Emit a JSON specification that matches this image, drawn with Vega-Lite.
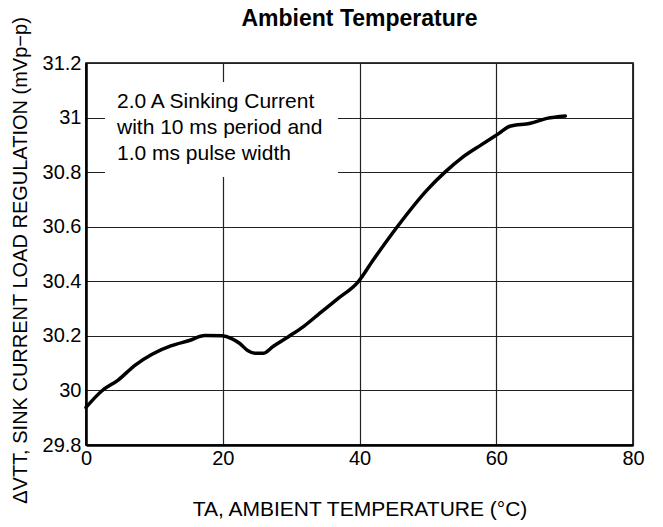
{
  "$schema": "https://vega.github.io/schema/vega-lite/v6.json",
  "width": 547,
  "height": 382,
  "autosize": {"type": "none"},
  "padding": {"left": 86, "top": 63, "right": 30, "bottom": 82},
  "background": "white",
  "title": {
    "text": "Ambient Temperature",
    "font": "Liberation Sans",
    "fontSize": 23,
    "fontWeight": "bold",
    "color": "black",
    "anchor": "middle",
    "offset": -14
  },
  "config": {
    "font": "Liberation Sans",
    "view": {"stroke": "black", "strokeWidth": 1.6},
    "axis": {
      "labelFont": "Liberation Sans",
      "titleFont": "Liberation Sans",
      "labelFontSize": 20,
      "titleFontSize": 20,
      "titleFontWeight": "normal",
      "labelColor": "black",
      "titleColor": "black",
      "domainColor": "black",
      "domainWidth": 2.5,
      "gridColor": "#222222",
      "gridWidth": 1.2,
      "gridOpacity": 1,
      "ticks": false
    }
  },
  "layer": [
    {
      "data": {
        "values": [
          {"t": 0, "v": 29.938},
          {"t": 2.3, "v": 29.998},
          {"t": 4.7, "v": 30.038},
          {"t": 7.2, "v": 30.093},
          {"t": 9.6, "v": 30.132},
          {"t": 12.5, "v": 30.164},
          {"t": 15.0, "v": 30.182},
          {"t": 17.4, "v": 30.201},
          {"t": 19.9, "v": 30.2},
          {"t": 21.3, "v": 30.19},
          {"t": 22.5, "v": 30.172},
          {"t": 23.7, "v": 30.145},
          {"t": 24.7, "v": 30.136},
          {"t": 25.9, "v": 30.136},
          {"t": 27.4, "v": 30.162},
          {"t": 29.6, "v": 30.197},
          {"t": 31.8, "v": 30.234},
          {"t": 34.2, "v": 30.283},
          {"t": 36.7, "v": 30.334},
          {"t": 39.8, "v": 30.398},
          {"t": 42.0, "v": 30.478},
          {"t": 45.5, "v": 30.599},
          {"t": 49.9, "v": 30.735},
          {"t": 52.5, "v": 30.8},
          {"t": 55.1, "v": 30.855},
          {"t": 57.8, "v": 30.9},
          {"t": 60.4, "v": 30.942},
          {"t": 62.0, "v": 30.968},
          {"t": 65.0, "v": 30.979},
          {"t": 67.4, "v": 30.997},
          {"t": 70.1, "v": 31.006}
        ]
      },
      "mark": {"type": "line", "stroke": "black", "strokeWidth": 3.5, "interpolate": "monotone", "strokeCap": "round", "strokeJoin": "round"},
      "encoding": {
        "x": {
          "field": "t",
          "type": "quantitative",
          "scale": {"domain": [0, 80], "nice": false},
          "axis": {
            "values": [0, 20, 40, 60, 80],
            "title": "TA, AMBIENT TEMPERATURE (°C)",
            "titleFontSize": 21,
            "labelPadding": 3,
            "titlePadding": 30,
            "format": "~g",
            "labelFlush": false
          }
        },
        "y": {
          "field": "v",
          "type": "quantitative",
          "scale": {"domain": [29.8, 31.2], "nice": false, "zero": false},
          "axis": {
            "values": [29.8, 30, 30.2, 30.4, 30.6, 30.8, 31, 31.2],
            "title": "ΔVTT, SINK CURRENT LOAD REGULATION (mVp−p)",
            "format": "~g",
            "labelPadding": 5,
            "titlePadding": 12,
            "titleY": 197,
            "labelFlush": false
          }
        }
      }
    },
    {
      "data": {"values": [{"note": "box"}]},
      "mark": {"type": "rect", "fill": "white", "strokeWidth": 0},
      "encoding": {
        "x": {"datum": 2.78, "type": "quantitative"},
        "x2": {"datum": 36.86},
        "y": {"datum": 31.13, "type": "quantitative"},
        "y2": {"datum": 30.782}
      }
    },
    {
      "data": {"values": [{"note": "text"}]},
      "mark": {
        "type": "text",
        "text": ["2.0 A Sinking Current", "with 10 ms period and", "1.0 ms pulse width"],
        "font": "Liberation Sans",
        "fontSize": 21,
        "fontWeight": "normal",
        "lineHeight": 26,
        "align": "left",
        "baseline": "alphabetic",
        "fill": "black"
      },
      "encoding": {
        "x": {"datum": 4.53, "type": "quantitative"},
        "y": {"datum": 31.034, "type": "quantitative"}
      }
    }
  ]
}
